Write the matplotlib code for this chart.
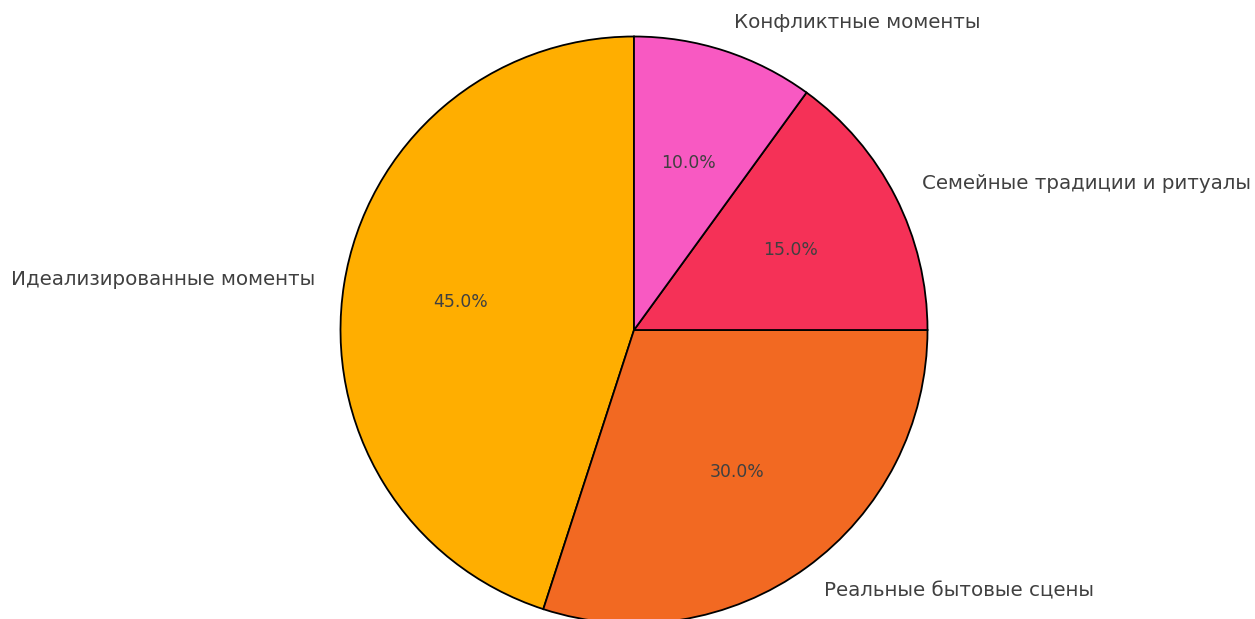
import matplotlib.pyplot as plt

# Data
labels = ['Идеализированные моменты', 'Реальные бытовые сцены',
          'Семейные традиции и ритуалы', 'Конфликтные моменты']
shares = [45, 30, 15, 10]
colors = ['#FFAE00', '#F26922', '#F53157', '#F859C2']

fig = plt.figure(figsize=(12.55, 6.19), dpi=100)
# axes placed so the pie sits where it does in the reference
cx, cy, r = 634, 330, 293.5
ax = fig.add_axes([(cx - r) / 1255, (619 - cy - r) / 619, 2 * r / 1255, 2 * r / 619])

wedges, texts, autotexts = ax.pie(
    shares, labels=labels, colors=colors, autopct='%1.1f%%',
    startangle=90, wedgeprops={'edgecolor': 'black', 'linewidth': 1.3},
    textprops={'color': '#404040'})
for t in texts:
    t.set_fontsize(14.3)
for t in autotexts:
    t.set_fontsize(12.4)

ax.set_xlim(-1, 1)
ax.set_ylim(-1, 1)
ax.set_aspect('equal')
ax.axis('off')

fig.savefig('out.png', dpi=100)
